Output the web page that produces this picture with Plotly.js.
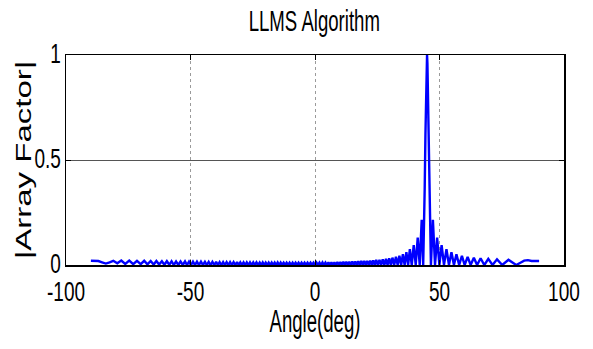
<!DOCTYPE html>
<html>
<head>
<meta charset="utf-8">
<script src="https://cdn.plot.ly/plotly-3.0.1.min.js"></script>
<style>
html,body{margin:0;padding:0;background:#fff;}
#chart{width:593px;height:349px;}
</style>
</head>
<body>
<div id="chart"></div>
<script>
// Angle (deg) and |Array Factor|
const angleDeg = [
-90,-88.5,-87,-85.5,-84,-82.5,-81,-79.4,-77.8,-76.2,-74.6,-73.0,-71.5,-70.0,-68.6,-67.3,-66.0,-64.8,-63.7,-62.6,
-61.5,-60.5,-59.5,-58.5,-57.6,-56.7,-55.8,-54.9,-54.0,-53.1,-52.2,-51.4,-50.6,-49.8,-49.0,-48.2,-47.4,-46.6,-45.8,-45.0,
-44.2,-43.45,-42.7,-41.95,-41.2,-40.45,-39.7,-39.0,-38.3,-37.6,-36.9,-36.2,-35.5,-34.8,-34.1,-33.4,-32.7,-32.0,-31.3,-30.65,
-30.0,-29.35,-28.7,-28.05,-27.4,-26.75,-26.1,-25.45,-24.8,-24.15,-23.5,-22.85,-22.2,-21.6,-21.0,-20.4,-19.8,-19.2,-18.6,-18.0,
-17.4,-16.8,-16.2,-15.6,-15.0,-14.4,-13.8,-13.2,-12.6,-12.0,-11.4,-10.8,-10.2,-9.6,-9.0,-8.4,-7.8,-7.2,-6.6,-6.0,
-5.4,-4.8,-4.2,-3.6,-3.0,-2.4,-1.8,-1.2,-0.6,0,0.6,1.2,1.8,2.4,3.0,3.6,4.2,4.8,5.4,6.0,
6.6,7.2,7.8,8.4,9.0,9.6,10.2,10.8,11.4,12.0,12.6,13.2,13.8,14.4,15.0,15.6,16.2,16.8,17.4,18.0,
18.6,19.2,19.8,20.4,21.0,21.6,22.2,22.8,23.4,24.0,24.6,25.25,25.9,26.55,27.2,27.85,28.5,29.15,29.8,30.45,
31.1,31.8,32.5,33.2,33.9,34.6,35.3,36.0,36.7,37.4,38.1,38.85,39.65,40.45,41.25,42.05,42.85,43.45,43.75,44.05,
44.35,44.65,44.85,45.0,45.15,45.35,45.65,45.95,46.25,46.55,47.35,48.2,49.05,49.95,50.85,51.8,52.8,53.8,54.8,55.8,
56.8,57.9,59.0,60.1,61.3,62.5,63.8,65.1,66.5,68.0,69.6,71.3,73.1,75.2,77.7,80.8,82.5,84.0,85.5,87.0,
88.5,90.0
];
const arrayFactor = [
.020,.020,.019,.013,.007,.013,.020,.008,.021,.005,.021,.004,.020,.004,.020,.003,.019,.002,.019,.002,
.018,.001,.018,.001,.018,0,.017,0,.017,0,.017,0,.016,0,.016,0,.016,0,.016,0,
.015,0,.015,0,.015,0,.015,0,.014,0,.014,0,.014,0,.014,0,.014,0,.014,0,
.013,0,.013,0,.013,0,.013,0,.013,0,.013,0,.012,0,.012,0,.012,0,.012,0,
.012,0,.012,0,.012,0,.012,0,.011,0,.011,0,.011,0,.011,0,.011,0,.011,0,
.011,0,.011,0,.011,0,.011,0,.011,0,.012,0,.012,0,.012,0,.012,0,.013,0,
.013,0,.013,0,.014,0,.014,0,.015,0,.015,0,.016,0,.017,0,.017,0,.018,0,
.019,0,.019,0,.020,0,.021,0,.022,0,.024,0,.025,0,.027,0,.029,0,.032,0,
.035,0,.039,0,.044,0,.051,0,.061,0,.075,0,.095,0,.13,0,.215,0,.15,.36,
.62,.84,.96,1.0,.96,.84,.62,.36,.15,0,.215,0,.13,0,.095,0,.075,0,.061,0,
.051,0,.044,0,.039,0,.035,0,.032,0,.029,0,.027,0,.025,0,.011,.021,.023,.019,
.019,.019
];
const xTicks = [-100,-50,0,50,100];
const xTickLabels = ['-100','-50','0','50','100'];
const yTicks = [0,0.5,1];
const yTickLabels = ['0','0.5','1'];

const font = '"Liberation Sans", Arial, sans-serif';

const trace = {
  x: angleDeg, y: arrayFactor, type: 'scatter', mode: 'lines',
  line: {color: '#0000ff', width: 2.4}, hoverinfo: 'skip'
};

const layout = {
  width: 593, height: 349,
  margin: {l: 66, r: 29, t: 55, b: 84},
  paper_bgcolor: '#ffffff', plot_bgcolor: '#ffffff',
  showlegend: false,
  title: {text: 'LLMS Algorithm', font: {family: font, size: 30, color: '#000'}, x: 0.53, xanchor: 'center', y: 0.94, yanchor: 'middle'},
  xaxis: {
    range: [-100, 100], tickvals: xTicks, ticktext: xTickLabels,
    ticks: 'inside', ticklen: 5, tickcolor: '#000', tickwidth: 1,
    showline: true, linecolor: '#000', linewidth: 1.5, mirror: 'ticks',
    showgrid: true, gridcolor: '#9a9a9a', griddash: 'dot', gridwidth: 1,
    zeroline: false,
    tickfont: {family: font, size: 28, color: '#000'},
    title: {text: 'Angle(deg)', font: {family: font, size: 31, color: '#000'}, standoff: 2}
  },
  yaxis: {
    range: [0, 1], tickvals: yTicks, ticktext: yTickLabels,
    ticks: 'inside', ticklen: 5, tickcolor: '#000', tickwidth: 1,
    showline: true, linecolor: '#000', linewidth: 1.5, mirror: 'ticks',
    showgrid: true, gridcolor: '#555555', gridwidth: 1,
    zeroline: false,
    tickfont: {family: font, size: 28, color: '#000'},
    title: {text: '|Array Factor|', font: {family: font, size: 22, color: '#000'}, standoff: 6}
  }
};

// scale a text element around its own anchor point, then shift it by (dx, dy)
function squeeze(el, sx, sy, dx, dy) {
  if (!el) return;
  const x = parseFloat(el.getAttribute('x')) || 0;
  const y = parseFloat(el.getAttribute('y')) || 0;
  const t = el.getAttribute('transform') || '';
  el.setAttribute('transform',
    'translate(' + dx + ',' + dy + ') ' + t +
    ' translate(' + x + ',' + y + ') scale(' + sx + ',' + sy + ') translate(' + (-x) + ',' + (-y) + ')');
}

Plotly.newPlot('chart', [trace], layout, {staticPlot: true, displayModeBar: false}).then(function(gd){
  const root = document.getElementById('chart');
  root.querySelectorAll('.xtick text').forEach(function(el){ squeeze(el, 0.68, 1, 0, 1); });
  root.querySelectorAll('.ytick text').forEach(function(el){ squeeze(el, 0.68, 1, 2, -2); });
  squeeze(root.querySelector('.gtitle'), 0.62, 1, 0, 0);
  squeeze(root.querySelector('.xtitle'), 0.6, 1, 0, -2);
  squeeze(root.querySelector('.ytitle'), 1.5, 1, 11, 0);
});
</script>
</body>
</html>
